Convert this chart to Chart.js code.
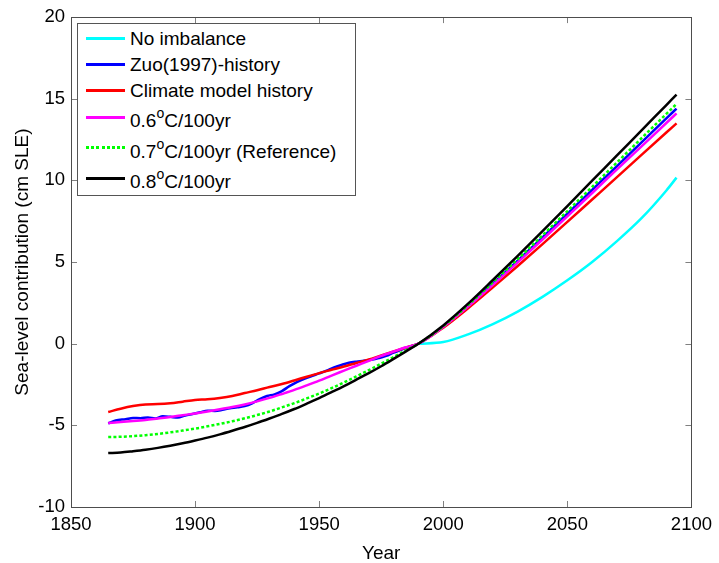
<!DOCTYPE html>
<html>
<head>
<meta charset="utf-8">
<script src="https://cdn.jsdelivr.net/npm/chart.js@4.4.1/dist/chart.umd.min.js"></script>
<style>
html,body{margin:0;padding:0;background:#fff;}
#wrap{position:relative;width:719px;height:563px;overflow:hidden;}
#c{position:absolute;left:0;top:0;}
#legend{position:absolute;left:77px;top:23px;width:277px;height:171px;border:1px solid #555;background:#fff;
  font-family:'Liberation Sans',Arial,Helvetica,sans-serif;font-size:19px;color:#000;}
.sw{position:absolute;left:8px;width:39px;height:3px;}
.tx{position:absolute;left:52px;white-space:nowrap;line-height:22px;}
.sup{font-size:14px;position:relative;top:-9px;}
</style>
</head>
<body>
<div id="wrap">
<canvas id="c" width="719" height="563"></canvas>
<div id="legend"></div>
</div>
<script>
// ---------------- data ----------------
const seriesLabels = ['No imbalance','Zuo(1997)-history','Climate model history','0.6^oC/100yr','0.7^oC/100yr (Reference)','0.8^oC/100yr'];
const seriesColors = ['#00ffff','#0000ff','#ff0000','#ff00ff','#00ff00','#000000'];

const histYears = [1865,1870,1875,1880,1885,1890,1895,1900,1905,1910,1915,1920,1925,1930,1935,1940,1945,1950,1955,1960,1965,1970,1975,1980,1985];
const futureYears = [1990,2000,2010,2020,2030,2040,2050,2060,2070,2080,2090,2094];
const zuoYears = [1865,1868,1872,1875,1878,1881,1884,1887,1890,1893,1896,1899,1902,1905,1908,1911,1914,1917,1920,1923,1926,1929,1932,1935,1938,1941,1944,1947,1950,1953,1956,1959,1962,1965,1968,1971,1974,1977,1980,1983,1986];

// No imbalance (future only)
const noImbFuture = [0,0.1,0.57,1.2,1.97,2.87,3.88,5.0,6.28,7.7,9.4,10.17];
// Zuo(1997)-history
const zuoHist = [-4.88,-4.7,-4.62,-4.55,-4.56,-4.52,-4.58,-4.45,-4.48,-4.52,-4.4,-4.3,-4.2,-4.1,-4.12,-4.05,-3.95,-3.9,-3.82,-3.65,-3.4,-3.2,-3.1,-2.9,-2.6,-2.35,-2.15,-1.98,-1.82,-1.65,-1.45,-1.3,-1.17,-1.1,-1.05,-0.98,-0.88,-0.75,-0.55,-0.38,-0.2];
const zuoFuture = [0,1.05,2.31,3.68,5.08,6.51,7.96,9.42,10.88,12.35,13.81,14.4];
// Climate model history
const cmHist = [-4.18,-3.98,-3.82,-3.72,-3.7,-3.65,-3.55,-3.45,-3.4,-3.32,-3.2,-3.02,-2.85,-2.65,-2.47,-2.25,-2.02,-1.8,-1.6,-1.4,-1.18,-0.97,-0.72,-0.48,-0.23];
const cmFuture = [0,0.98,2.17,3.45,4.76,6.1,7.46,8.83,10.2,11.58,12.95,13.49];
// 0.6 C/100yr
const t06Hist = [-4.85,-4.8,-4.74,-4.67,-4.58,-4.49,-4.38,-4.27,-4.15,-4.02,-3.88,-3.72,-3.53,-3.32,-3.08,-2.83,-2.55,-2.26,-1.95,-1.65,-1.35,-1.05,-0.75,-0.48,-0.22];
const t06Future = [0,1.03,2.27,3.6,4.98,6.38,7.8,9.23,10.67,12.1,13.53,14.1];
// 0.7 C/100yr (Reference)
const t07Hist = [-5.72,-5.7,-5.66,-5.6,-5.53,-5.43,-5.32,-5.2,-5.06,-4.91,-4.75,-4.57,-4.37,-4.15,-3.9,-3.64,-3.35,-3.05,-2.72,-2.37,-2.0,-1.62,-1.22,-0.82,-0.4];
const t07Future = [0,1.07,2.36,3.76,5.18,6.64,8.12,9.61,11.1,12.6,14.09,14.68];
// 0.8 C/100yr
const t08Hist = [-6.7,-6.66,-6.58,-6.49,-6.38,-6.25,-6.1,-5.93,-5.75,-5.55,-5.33,-5.1,-4.85,-4.58,-4.3,-4.0,-3.67,-3.33,-2.97,-2.6,-2.2,-1.8,-1.38,-0.93,-0.47];
const t08Future = [0,1.12,2.45,3.9,5.38,6.9,8.43,9.98,11.53,13.08,14.63,15.25];

const xTicks = [1850,1900,1950,2000,2050,2100];
const yTicks = [-10,-5,0,5,10,15,20];

// ---------------- build ----------------
function pts(xs, ys){ return xs.map((x,i)=>({x:x,y:ys[i]})); }
const seriesData = [
  pts(futureYears, noImbFuture),
  pts(zuoYears.concat(futureYears), zuoHist.concat(zuoFuture)),
  pts(histYears.concat(futureYears), cmHist.concat(cmFuture)),
  pts(histYears.concat(futureYears), t06Hist.concat(t06Future)),
  pts(histYears.concat(futureYears), t07Hist.concat(t07Future)),
  pts(histYears.concat(futureYears), t08Hist.concat(t08Future))
];
const FONT = "'Liberation Sans', Arial, Helvetica, sans-serif";

const datasets = seriesData.map((d,i)=>({
  label: seriesLabels[i].replace('^o','\u1d52'),
  data: d,
  borderColor: seriesColors[i],
  backgroundColor: seriesColors[i],
  borderWidth: 2.5,
  borderDash: i===4 ? [3,2.2] : [],
  pointRadius: 0,
  cubicInterpolationMode: 'monotone',
  fill: false,
  order: seriesLabels.length - i
}));

const boxPlugin = {
  id: 'boxTicks',
  afterDraw(chart){
    const {ctx, chartArea:a, scales} = chart;
    const xs = scales.x, ys = scales.y;
    ctx.save();
    ctx.lineWidth = 1;
    ctx.strokeStyle = '#808080';
    ctx.beginPath();
    xTicks.forEach(v=>{
      const p = Math.round(xs.getPixelForValue(v)) + 0.5;
      ctx.moveTo(p, a.bottom); ctx.lineTo(p, a.bottom - 6);
      ctx.moveTo(p, a.top); ctx.lineTo(p, a.top + 6);
    });
    yTicks.forEach(v=>{
      const p = Math.round(ys.getPixelForValue(v)) + 0.5;
      ctx.moveTo(a.left, p); ctx.lineTo(a.left + 6, p);
      ctx.moveTo(a.right, p); ctx.lineTo(a.right - 6, p);
    });
    ctx.stroke();
    ctx.strokeStyle = '#4d4d4d';
    ctx.strokeRect(Math.round(a.left)+0.5, Math.round(a.top)+0.5, Math.round(a.right-a.left), Math.round(a.bottom-a.top));
    ctx.restore();
  }
};

new Chart(document.getElementById('c'), {
  type: 'line',
  data: { datasets: datasets },
  options: {
    responsive: false,
    animation: false,
    devicePixelRatio: 1,
    layout: { padding: { left: 0, top: 16, right: 25, bottom: 0 } },
    plugins: { legend: { display: false }, tooltip: { enabled: false } },
    scales: {
      x: {
        type: 'linear', min: 1850, max: 2100,
        afterBuildTicks: s => { s.ticks = xTicks.map(v=>({value:v})); },
        afterFit: s => { s.height = 56; },
        grid: { display: false, drawTicks: false },
        border: { display: false },
        ticks: { autoSkip: false, maxRotation: 0, padding: 7, color: '#000',
                 font: { family: FONT, size: 18.5 }, callback: v => String(v) },
        title: { display: true, text: 'Year', color: '#000', font: { family: FONT, size: 19 }, padding: { top: 0, bottom: -2 } }
      },
      y: {
        type: 'linear', min: -10, max: 20,
        afterBuildTicks: s => { s.ticks = yTicks.map(v=>({value:v})); },
        afterFit: s => { s.width = 71; },
        grid: { display: false, drawTicks: false },
        border: { display: false },
        ticks: { autoSkip: false, padding: 6, color: '#000',
                 font: { family: FONT, size: 18.5 }, callback: v => String(v) },
        title: { display: true, text: 'Sea-level contribution (cm SLE)', color: '#000', font: { family: FONT, size: 19 }, padding: { top: 11, bottom: 0 } }
      }
    }
  },
  plugins: [boxPlugin]
});

// ---------------- HTML legend ----------------
const legendLineY = [38.3, 64.3, 90, 117.3, 147.7, 178.3];
const legendBaseY = [46, 71.7, 97.3, 127.3, 158.3, 188.3];
const leg = document.getElementById('legend');
seriesLabels.forEach((lab,i)=>{
  const sw = document.createElement('div');
  sw.className = 'sw';
  sw.style.top = (legendLineY[i] - 24 - 1.5) + 'px';
  if (i === 4) sw.style.background = 'repeating-linear-gradient(90deg,' + seriesColors[i] + ' 0 3px, transparent 3px 5.2px)';
  else sw.style.background = seriesColors[i];
  leg.appendChild(sw);
  const tx = document.createElement('div');
  tx.className = 'tx';
  tx.style.top = (legendBaseY[i] - 24 - 17.6) + 'px';
  const parts = lab.split('^o');
  tx.appendChild(document.createTextNode(parts[0]));
  if (parts.length > 1) {
    const s = document.createElement('span'); s.className = 'sup'; s.textContent = 'o';
    tx.appendChild(s);
    tx.appendChild(document.createTextNode(parts[1]));
  }
  leg.appendChild(tx);
});
</script>
</body>
</html>
